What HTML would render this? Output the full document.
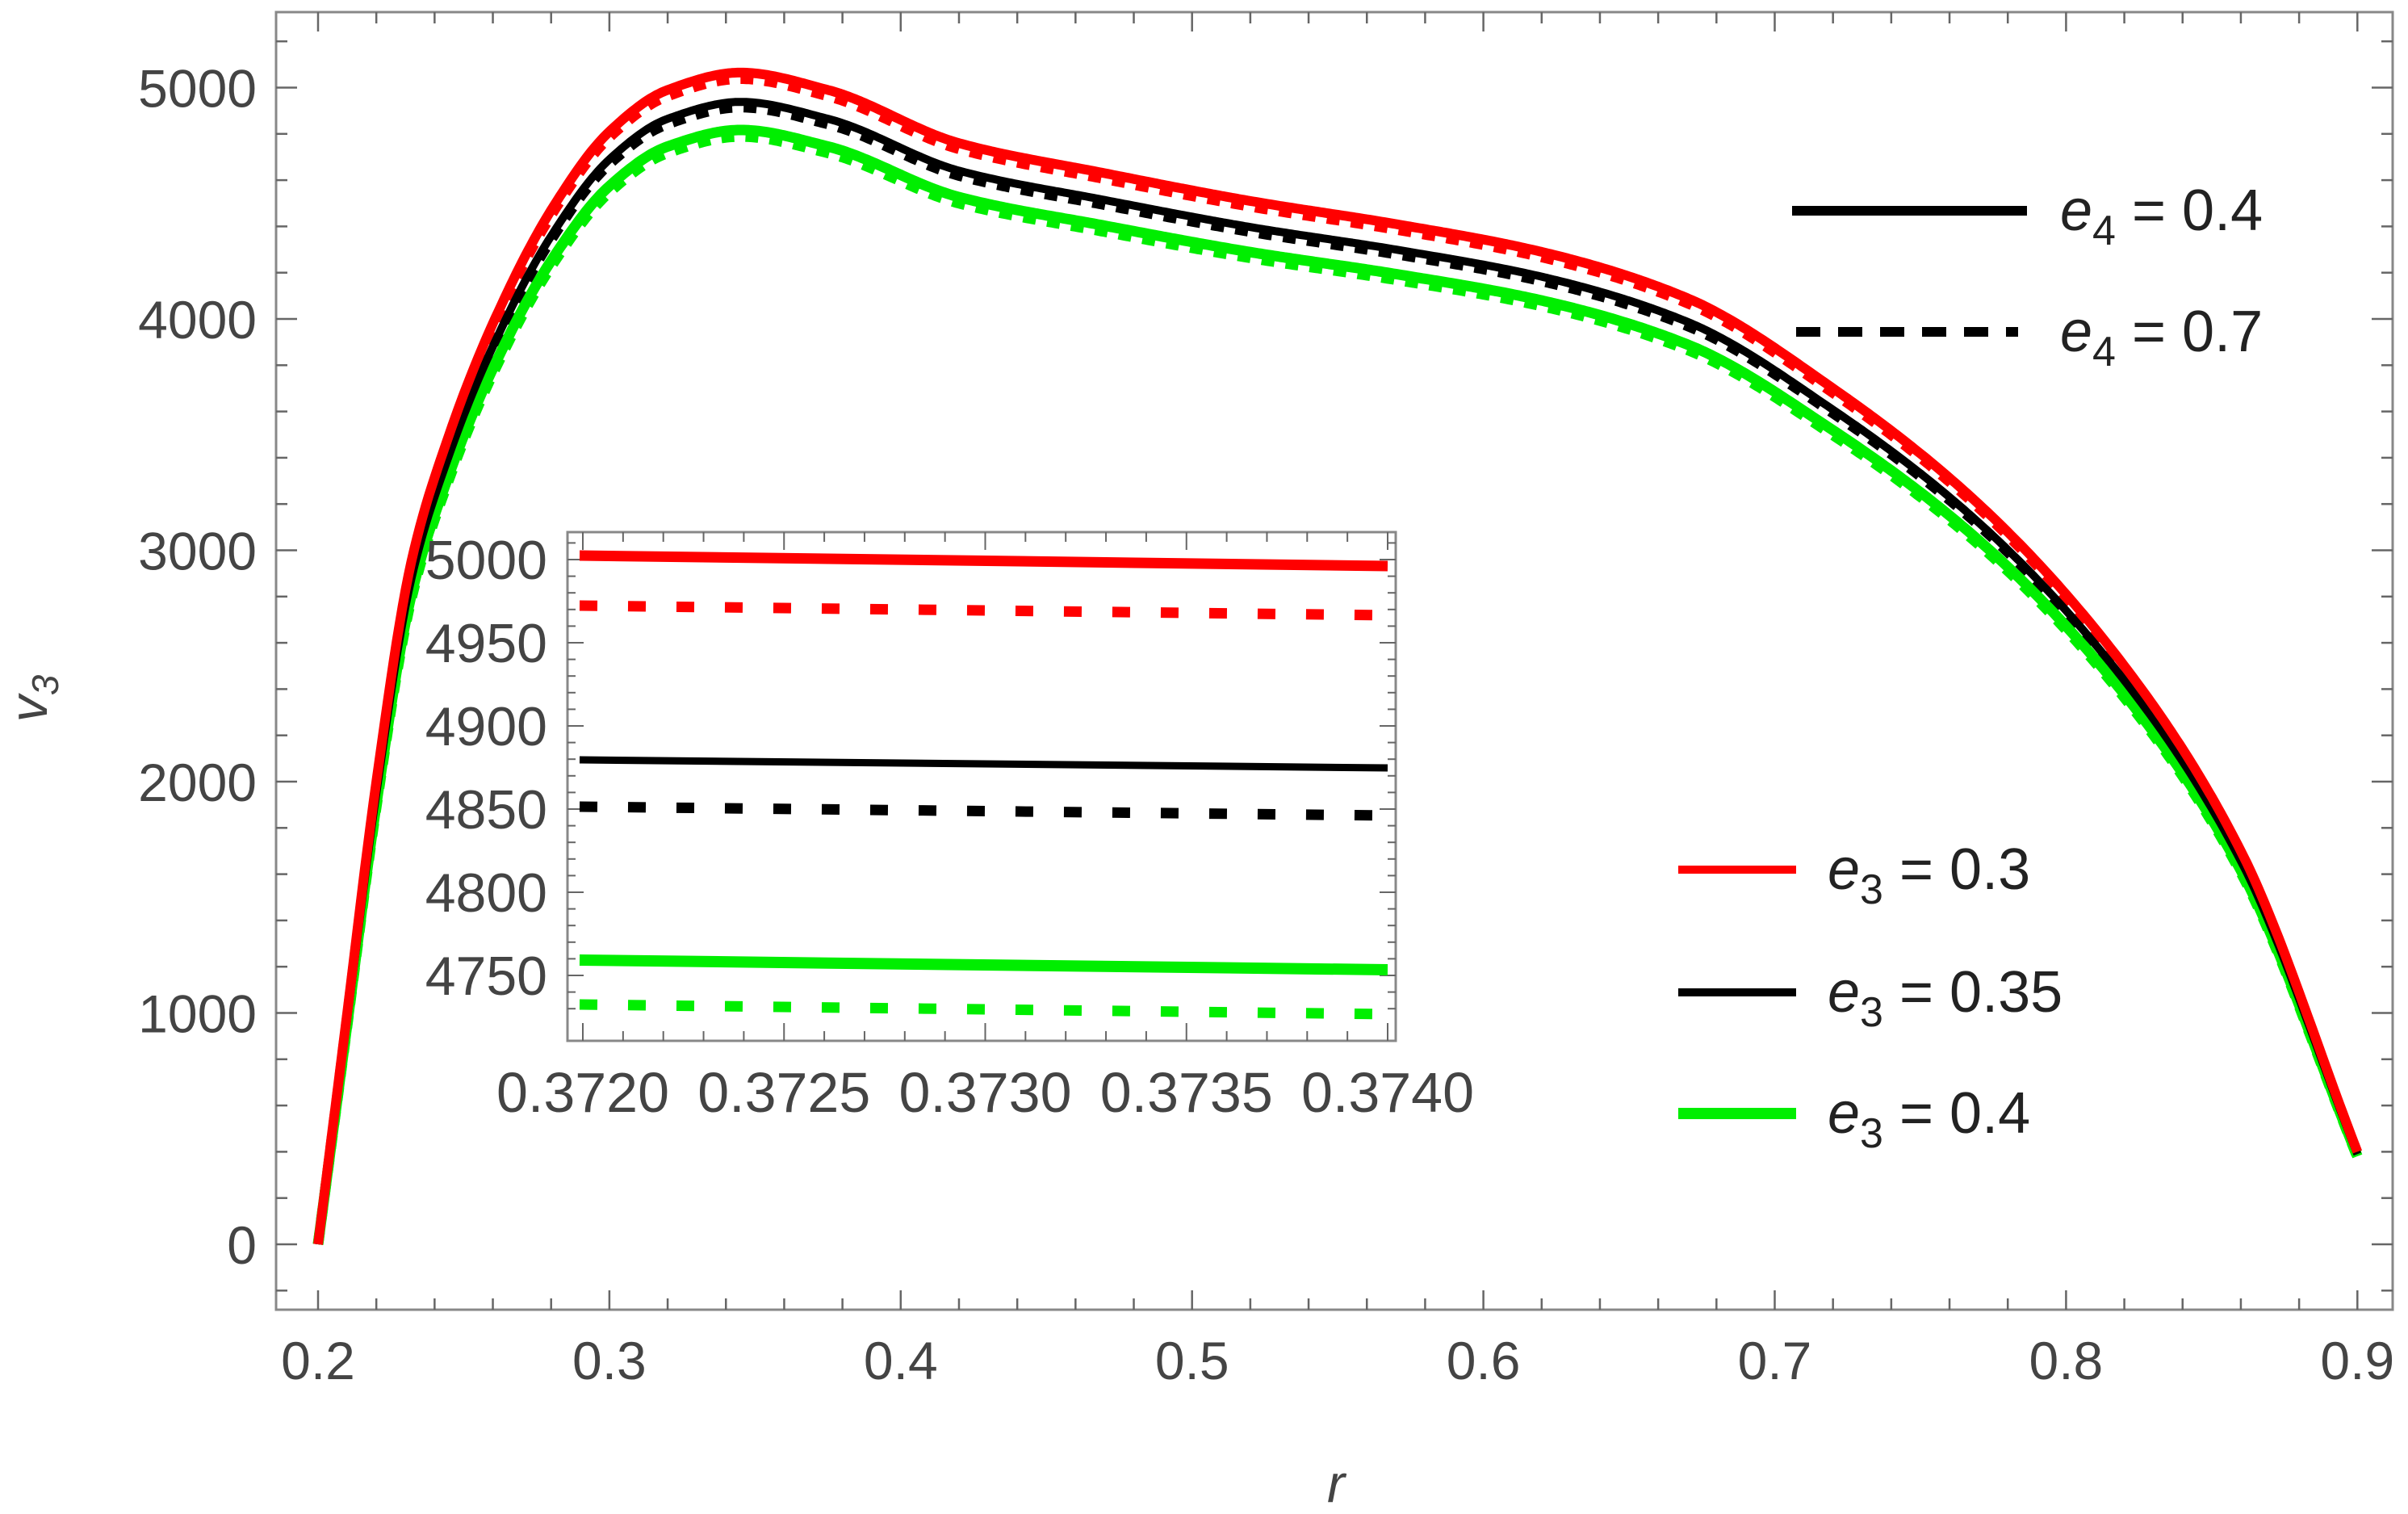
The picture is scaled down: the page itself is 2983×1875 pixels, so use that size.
<!DOCTYPE html>
<html><head><meta charset="utf-8"><style>
html,body{margin:0;padding:0;background:#fff;}
svg{display:block;}
text{font-family:"Liberation Sans",sans-serif;fill:#444;}
</style></head><body>
<svg id="s" width="2983" height="1875" viewBox="0 0 2983 1875" xmlns="http://www.w3.org/2000/svg"></svg>
<script>
const S=document.getElementById('s');let h='';
const X=r=>394+(r-0.2)*3609, Y=v=>1541-v*0.2865;
h+='<rect x="342" y="15" width="2622" height="1607" fill="none" stroke="#888" stroke-width="3"/>';
for(let i=0;i<=35;i++){const r=0.2+i*0.02;const x=X(r);const maj=i%5==0;const L=maj?24:14;
 h+=`<line x1="${x}" y1="1622" x2="${x}" y2="${1622-L}" stroke="#666" stroke-width="2.5"/><line x1="${x}" y1="15" x2="${x}" y2="${15+L}" stroke="#666" stroke-width="2.5"/>`;
 if(maj)h+=`<text x="${x}" y="1708" font-size="66" text-anchor="middle">${r.toFixed(1)}</text>`;}
for(let v=-200;v<=5400;v+=200){const y=Y(v);if(y<16||y>1621)continue;const maj=v%1000==0;const L=maj?26:14;
 h+=`<line x1="342" y1="${y}" x2="${342+L}" y2="${y}" stroke="#666" stroke-width="2.5"/><line x1="2964" y1="${y}" x2="${2964-L}" y2="${y}" stroke="#666" stroke-width="2.5"/>`;
 if(maj)h+=`<text x="318" y="${y+24}" font-size="66" text-anchor="end">${v}</text>`;}
h+='<text x="1655" y="1860" font-size="66" font-style="italic" text-anchor="middle">r</text>';
h+='<text transform="translate(58,865) rotate(-90)" font-size="66" font-style="italic" text-anchor="middle">v<tspan font-size="46" dy="14">3</tspan></text>';
const P=[[0.2,0],[0.21,1000],[0.22,2000],[0.232,2950],[0.245,3500],[0.26,3980],[0.28,4470],[0.30,4810],[0.32,4990],[0.345,5065],[0.375,4990],[0.42,4760],[0.47,4630],[0.52,4510],[0.57,4410],[0.62,4290],[0.67,4090],[0.72,3700],[0.77,3200],[0.82,2500],[0.86,1700],[0.9,400]];
const n=P.length,dl=[],m=[];
for(let i=0;i<n-1;i++)dl.push((P[i+1][1]-P[i][1])/(P[i+1][0]-P[i][0]));
m[0]=dl[0];m[n-1]=dl[n-2];
for(let i=1;i<n-1;i++){if(dl[i-1]*dl[i]<=0)m[i]=0;else{const w1=2*(P[i+1][0]-P[i][0])+(P[i][0]-P[i-1][0]),w2=(P[i+1][0]-P[i][0])+2*(P[i][0]-P[i-1][0]);m[i]=(w1+w2)/(w1/dl[i-1]+w2/dl[i]);}}
function interp(r){for(let i=0;i<n-1;i++){if(r<=P[i+1][0]+1e-9){const hh=P[i+1][0]-P[i][0],t=(r-P[i][0])/hh,t2=t*t,t3=t2*t;
 return (2*t3-3*t2+1)*P[i][1]+(t3-2*t2+t)*hh*m[i]+(-2*t3+3*t2)*P[i+1][1]+(t3-t2)*hh*m[i+1];}}return P[n-1][1];}
function path(f,off){let d='';for(let k=0;k<=700;k++){const r=0.2+k*0.001;const b=interp(r);const v=b*f-off*b/5000;d+=(d?'L':'M')+X(r).toFixed(1)+','+Y(v).toFixed(1);}return d;}
const ser=[[1,'#f00',12],[0.975,'#000',10],[0.951,'#0e0',13]];
ser.slice().reverse().forEach(([f,c,w])=>{h+=`<path d="${path(f,28)}" fill="none" stroke="${c}" stroke-width="${w}" stroke-dasharray="16,14"/>`;});
ser.slice().reverse().forEach(([f,c,w])=>{h+=`<path d="${path(f,0)}" fill="none" stroke="${c}" stroke-width="${w}" stroke-linejoin="round"/>`;});
h+='<line x1="2220" y1="261" x2="2511" y2="261" stroke="#000" stroke-width="12"/>';
h+='<line x1="2225" y1="411" x2="2500" y2="411" stroke="#000" stroke-width="12" stroke-dasharray="30,22"/>';
const lt=(x,y,s,v)=>`<text x="${x}" y="${y}" font-size="72" style="fill:#222"><tspan font-style="italic">e</tspan><tspan font-size="52" dy="18">${s}</tspan><tspan dy="-18"> = ${v}</tspan></text>`;
h+=lt(2552,285,'4','0.4')+lt(2552,435,'4','0.7');
h+='<line x1="2079" y1="1077" x2="2225" y2="1077" stroke="#f00" stroke-width="10"/>';
h+='<line x1="2079" y1="1229" x2="2225" y2="1229" stroke="#000" stroke-width="10"/>';
h+='<line x1="2079" y1="1379" x2="2225" y2="1379" stroke="#0e0" stroke-width="14"/>';
h+=lt(2264,1101,'3','0.3')+lt(2264,1253,'3','0.35')+lt(2264,1403,'3','0.4');
h+='<rect x="703" y="659" width="1026" height="630" fill="#fff" stroke="#888" stroke-width="3"/>';
const IX=r=>722+(r-0.372)/0.002*997, IY=v=>693+(5000-v)*103/50;
for(let i=0;i<=20;i++){const r=0.372+i*0.0001;const x=IX(r);const maj=i%5==0;const L=maj?22:12;
 h+=`<line x1="${x}" y1="1289" x2="${x}" y2="${1289-L}" stroke="#666" stroke-width="2"/><line x1="${x}" y1="659" x2="${x}" y2="${659+L}" stroke="#666" stroke-width="2"/>`;
 if(maj)h+=`<text x="${x}" y="1377" font-size="70" text-anchor="middle">${r.toFixed(4)}</text>`;}
for(let v=4730;v<=5010;v+=10){const y=IY(v);if(y<660||y>1288)continue;const maj=v%50==0;const L=maj?20:10;
 h+=`<line x1="703" y1="${y}" x2="${703+L}" y2="${y}" stroke="#666" stroke-width="2"/><line x1="1729" y1="${y}" x2="${1729-L}" y2="${y}" stroke="#666" stroke-width="2"/>`;
 if(maj)h+=`<text x="678" y="${y+24}" font-size="68" text-anchor="end">${v}</text>`;}
const il=(y1,y2,c,w,dash)=>`<line x1="718" y1="${y1}" x2="1719" y2="${y2}" stroke="${c}" stroke-width="${w}"${dash?' stroke-dasharray="22,38"':''}/>`;
h+=il(688,701,'#f00',13)+il(750,762,'#f00',13,1)+il(941,951,'#000',9)+il(999,1010,'#000',13,1)+il(1189,1201,'#0e0',14)+il(1244,1256,'#0e0',13,1);
S.innerHTML=h;
</script>
</body></html>
